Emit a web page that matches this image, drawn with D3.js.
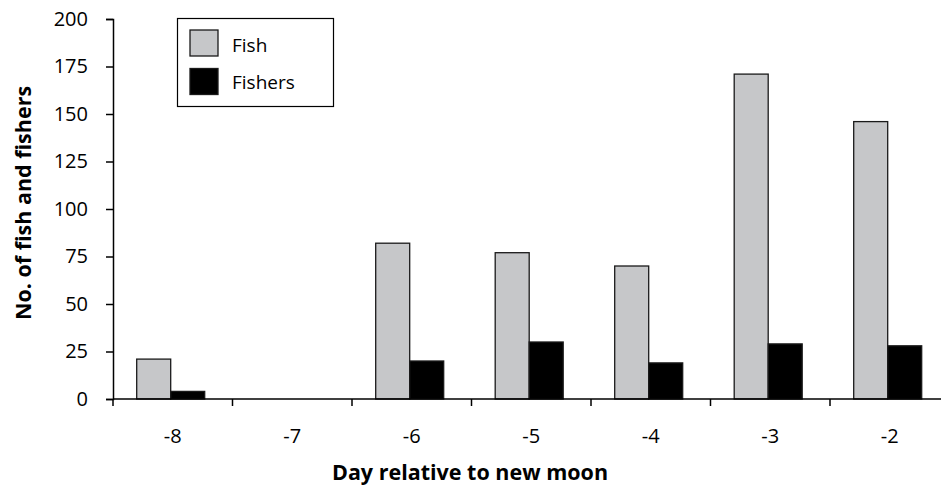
<!DOCTYPE html>
<html><head><meta charset="utf-8">
<script src="https://cdn.jsdelivr.net/npm/d3@7"></script>
<style>
body{margin:0;background:#fff;}
text{font-family:"Open Sans",sans-serif;fill:#000;}
</style></head>
<body><svg id="c" width="941" height="486"></svg>
<script>
const categories = ["-8","-7","-6","-5","-4","-3","-2"];
const seriesNames = ["Fish","Fishers"];
const fishValues = [21, 0, 82, 77, 70, 171, 146];
const fisherValues = [4, 0, 20, 30, 19, 29, 28];
const yTicks = [0,25,50,75,100,125,150,175,200];
const colors = ["#c6c7c9","#000000"];

(function(){
const svg = d3.select("#c");
const mLeft = 113, mTop = 19, mBottom = 399, bandW = 119.5;
const x0 = d3.scaleBand().domain(categories).range([mLeft, mLeft + bandW*categories.length]).padding(0);
const x1 = d3.scaleBand().domain(seriesNames).range([23.7, 91.7]).padding(0);
const y = d3.scaleLinear().domain([0,200]).range([mBottom, mTop]);

const data = categories.map((c,i)=>({cat:c, vals:[fishValues[i], fisherValues[i]]}));

// bars
const g = svg.append("g");
data.forEach(d=>{
  d.vals.forEach((v,j)=>{
    if (v<=0) return;
    g.append("rect")
      .attr("x", x0(d.cat)+x1(seriesNames[j]))
      .attr("y", y(v))
      .attr("width", x1.bandwidth())
      .attr("height", y(0)-y(v))
      .attr("fill", colors[j])
      .attr("stroke", "#1a1a1a")
      .attr("stroke-width", 1.3);
  });
});

// y axis
const yAxis = svg.append("g").attr("transform",`translate(${mLeft},0)`)
  .call(d3.axisLeft(y).tickValues(yTicks).tickSize(7).tickPadding(18));
yAxis.select(".domain").attr("stroke","#000").attr("stroke-width",1.5);
yAxis.selectAll(".tick line").attr("stroke","#000").attr("stroke-width",1.5);
yAxis.selectAll("text").attr("font-size",20).attr("font-family","Open Sans").attr("fill","#000");

// x axis
svg.append("line").attr("x1",mLeft).attr("x2",941).attr("y1",mBottom).attr("y2",mBottom)
  .attr("stroke","#000").attr("stroke-width",1.5);
categories.forEach(c=>{
  svg.append("line").attr("x1",x0(c)).attr("x2",x0(c)).attr("y1",mBottom).attr("y2",mBottom+7)
    .attr("stroke","#000").attr("stroke-width",1.5);
  svg.append("text").attr("x",x0(c)+x0.bandwidth()/2).attr("y",443)
    .attr("text-anchor","middle").attr("font-size",20).text(c);
});

// axis titles
svg.append("text").attr("x",470).attr("y",480).attr("text-anchor","middle")
  .attr("font-size",21.5).attr("font-weight","bold").text("Day relative to new moon");
svg.append("text").attr("transform","translate(31,203) rotate(-90)").attr("text-anchor","middle")
  .attr("font-size",21.5).attr("font-weight","bold").text("No. of fish and fishers");

// legend
const lg = svg.append("g");
lg.append("rect").attr("x",177.5).attr("y",18.5).attr("width",156).attr("height",88)
  .attr("fill","#fff").attr("stroke","#000").attr("stroke-width",1.2);
seriesNames.forEach((s,i)=>{
  lg.append("rect").attr("x",190).attr("y",30+i*38.5).attr("width",28).attr("height",26)
    .attr("fill",colors[i]).attr("stroke","#1a1a1a").attr("stroke-width",1.3);
  lg.append("text").attr("x",232).attr("y",52+i*37).attr("font-size",19).text(s);
});
})();
</script></body></html>
